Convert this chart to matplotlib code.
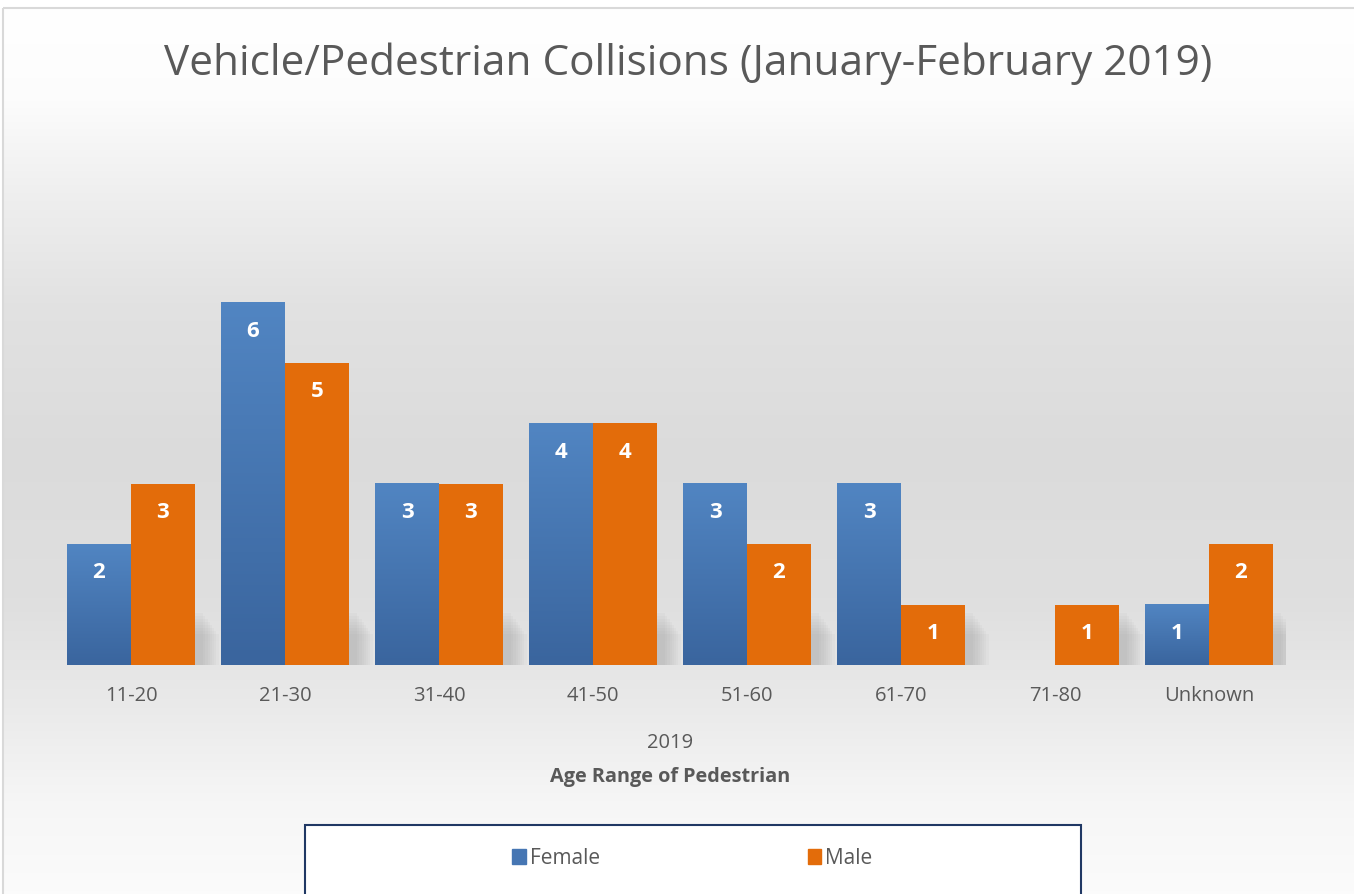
import numpy as np
import matplotlib.pyplot as plt
from matplotlib.patches import Rectangle
from matplotlib.colors import LinearSegmentedColormap

# data
age_ranges = ["11-20", "21-30", "31-40", "41-50", "51-60", "61-70", "71-80", "Unknown"]
female = [2, 6, 3, 4, 3, 3, 0, 1]
male = [3, 5, 3, 4, 2, 1, 1, 2]

W, H = 1354, 894
TXT = "#595959"
BLUE_TOP, BLUE_BOT = "#5185c2", "#3a659e"
ORANGE = "#e36c0a"

plt.rcParams['font.family'] = ['Open Sans', 'DejaVu Sans']

fig = plt.figure(figsize=(W / 100, H / 100), dpi=100)

# background gradient (chart area)
bg = fig.add_axes([0, 0, 1, 1], zorder=-10)
bg.set_xlim(0, W)
bg.set_ylim(H, 0)
bg.axis("off")
ys = np.array([0, 90, 180, 300, 450, 600, 700, 800, 894])
vals = np.array([1.0, 0.99, 0.94, 0.885, 0.86, 0.875, 0.915, 0.965, 0.985])
col = np.interp(np.arange(H), ys, vals)
grad = np.repeat(col[:, None], 2, axis=1)
bg.imshow(np.dstack([grad, grad, grad]), extent=(3, W, H, 8), aspect="auto")
bg.add_patch(Rectangle((3, 8), W + 10, H, fill=False, edgecolor="#d9d9d9", lw=1.5))

# main axes
x0, x1, ybase = 54, 1286, 665
ymax = 7
ax = fig.add_axes([x0 / W, (H - ybase) / H, (x1 - x0) / W, (ymax * 60.5) / H])
ax.patch.set_alpha(0)
x = np.arange(len(age_ranges))
bw = 0.415
bf = ax.bar(x - bw / 2, female, bw, color=BLUE_TOP, zorder=3, linewidth=0)
bm = ax.bar(x + bw / 2, male, bw, color=ORANGE, zorder=3, linewidth=0)
ax.set_xlim(-0.5, len(age_ranges) - 0.5)
ax.set_ylim(0, ymax)

# blue gradient fill
cmap = LinearSegmentedColormap.from_list("b", [BLUE_BOT, BLUE_TOP])
g = np.linspace(0, 1, 100)[:, None]
for b in bf:
    h = b.get_height()
    if h <= 0:
        continue
    ax.imshow(g, cmap=cmap, origin="lower", aspect="auto", zorder=3.5,
              extent=(b.get_x(), b.get_x() + b.get_width(), 0, h))

# soft shadows behind bars
px_x = 1 / 154
px_y = 1 / 60.5
for bars in (bf, bm):
    for b in bars:
        h = b.get_height()
        if h <= 0:
            continue
        sh = min(h, 55 * px_y)
        for k in range(1, 9):
            ax.add_patch(Rectangle((b.get_x() + 6 * px_x, 0),
                                   b.get_width() + k * 2.2 * px_x, sh - k * 3 * px_y,
                                   facecolor="#7f7f7f", alpha=0.045, lw=0, zorder=2))

# value labels
for bars in (bf, bm):
    for b in bars:
        h = b.get_height()
        if h <= 0:
            continue
        ax.text(b.get_x() + b.get_width() / 2, h - 29 * px_y, f"{h:g}",
                ha="center", va="center", color="white", fontsize=16,
                fontweight="bold", zorder=5)

for s in ax.spines.values():
    s.set_visible(False)
ax.set_yticks([])
ax.set_xticks(x)
ax.set_xticklabels(age_ranges, fontsize=14.5, color=TXT)
ax.tick_params(axis="x", length=0, pad=15)

# title and axis texts
fig.text(688 / W, 1 - 64 / H, "Vehicle/Pedestrian Collisions (January-February 2019)",
         ha="center", va="center", fontsize=30.4, color=TXT)
fig.text(670 / W, 1 - 743 / H, "2019", ha="center", va="center", fontsize=14.5, color=TXT)
fig.text(670 / W, 1 - 777 / H, "Age Range of Pedestrian", ha="center", va="center",
         fontsize=14.3, fontweight="bold", color=TXT)

# legend box
bg.add_patch(Rectangle((305, 825), 776, 90, facecolor="white", edgecolor="#203864",
                       lw=1.5, zorder=5))
handles = [Rectangle((0, 0), 1, 1, color="#4676b3"), Rectangle((0, 0), 1, 1, color=ORANGE)]
fig.legend(handles, ["Female", "Male"], loc="center", bbox_to_anchor=(692.5 / W, 1 - 858 / H),
           ncol=2, frameon=False, fontsize=15, handlelength=0.65, handleheight=0.7,
           handletextpad=0.2, columnspacing=9.95, labelcolor=TXT)

fig.savefig("out.png", dpi=100)
